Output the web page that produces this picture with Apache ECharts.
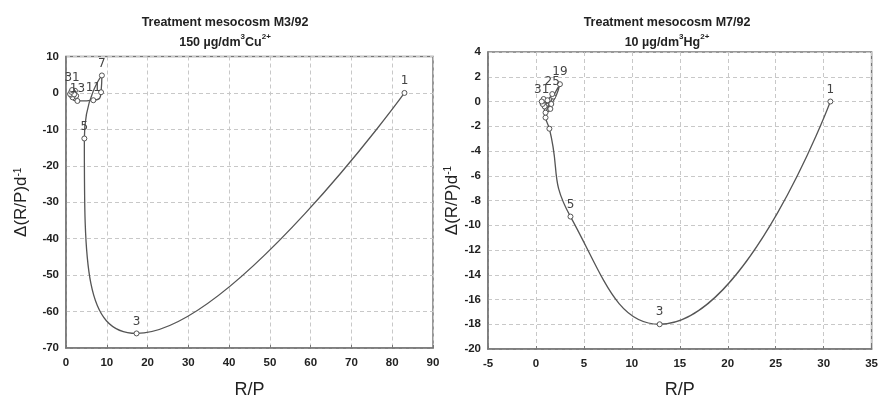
<!DOCTYPE html>
<html>
<head>
<meta charset="utf-8">
<script src="https://cdn.jsdelivr.net/npm/echarts@6/dist/echarts.min.js"></script>
<style>
html,body{margin:0;padding:0;background:#fff;}
#c{width:881px;height:404px;}
</style>
</head>
<body>
<div id="c"></div>
<script>
// Sampling days (point labels)
const days = [1,3,5,7,9,11,13,15,17,19,21,23,25,27,29,31];

// Left panel: M3/92, 150 µg/dm3 Cu2+
const cuRP    = [83, 17.3, 4.5, 8.8, 8.6, 6.7, 2.8, 1.6, 2.2, 1.2, 2.5, 1.8, 1.0, 2.0, 1.3, 1.5];
const cuDelta = [0, -66, -12.5, 4.8, 0.2, -2.0, -2.2, -1.2, 0.6, -0.5, -0.8, 0.2, -0.3, -0.4, 0.3, 0.8];
const cuLabeled = [1, 3, 5, 7, 11, 13, 31];

// Right panel: M7/92, 10 µg/dm3 Hg2+
const hgRP    = [30.7, 12.9, 3.6, 1.4, 1.0, 0.8, 1.5, 1.0, 1.8, 2.5, 1.6, 0.9, 1.7, 1.2, 0.7, 0.6];
const hgDelta = [0, -18, -9.3, -2.2, -1.3, 0.2, -0.6, -0.9, 0.4, 1.4, -0.2, -0.4, 0.6, 0.1, -0.2, 0.0];
const hgLabeled = [1, 3, 5, 19, 25, 31];

// Axis ranges / ticks
const leftX  = {min: 0, max: 90, interval: 10};
const leftY  = {min: -70, max: 10, interval: 10};
const rightX = {min: -5, max: 35, interval: 5};
const rightY = {min: -20, max: 4, interval: 2};

const titles = [
  {line1: 'Treatment mesocosm M3/92', line2: '150 µg/dm{sup|3}Cu{sup|2+}'},
  {line1: 'Treatment mesocosm M7/92', line2: '10 µg/dm{sup|3}Hg{sup|2+}'}
];
const xName = 'R/P';
const yName = 'Δ(R/P)d{sup|-1}';

function pts(xs, ys, labeled){
  return xs.map((x,i)=>({value:[x, ys[i], days[i]], label:{show: labeled.includes(days[i])}}));
}

const FONT = '"Liberation Sans Narrow","Liberation Sans",Arial,sans-serif';
const gridLine = {show:true, lineStyle:{color:'#c8c8c8', type:[4,3], width:1}};
const axisLine = {show:true, onZero:false, lineStyle:{color:'#777', width:1.5}};
const tickLbl = {color:'#222', fontFamily:FONT, fontWeight:'bold', fontSize:11.5};

function xAxis(gi, r, gap){
  return {type:'value', gridIndex:gi, min:r.min, max:r.max, interval:r.interval,
    name:xName, nameLocation:'middle', nameGap:gap,
    nameTextStyle:{fontFamily:FONT, fontSize:18, color:'#222'},
    axisLine, axisTick:{show:true, inside:true, length:3, lineStyle:{color:'#777'}},
    axisLabel:Object.assign({margin:9}, tickLbl), splitLine:gridLine};
}
function yAxis(gi, r, gap){
  return {type:'value', gridIndex:gi, min:r.min, max:r.max, interval:r.interval,
    name:yName, nameLocation:'middle', nameGap:gap, nameRotate:90,
    nameTextStyle:{fontFamily:FONT, fontSize:17, color:'#222',
      rich:{sup:{fontSize:10, verticalAlign:'top', fontFamily:FONT, color:'#222'}}},
    axisLine, axisTick:{show:false},
    axisLabel:Object.assign({margin:7}, tickLbl), splitLine:gridLine};
}
function series(idx, data, smooth){
  return {type:'line', xAxisIndex:idx, yAxisIndex:idx, data, smooth:smooth,
    symbol:'circle', symbolSize:5,
    itemStyle:{color:'#fff', borderColor:'#555', borderWidth:1},
    lineStyle:{color:'#555', width:1.3},
    label:{position:'top', distance:3, formatter:p=>p.value[2],
      color:'#444', fontSize:12, fontFamily:'"DejaVu Sans",sans-serif'},
    labelLayout:{hideOverlap:false},
    emphasis:{disabled:true}, animation:false};
}
function title(t, cx){
  return {text: t.line1 + '\n' + t.line2, left: cx, top: 8, textAlign:'center',
    textStyle:{fontFamily:FONT, fontWeight:'bold', fontSize:12.5, color:'#222', lineHeight:20,
      rich:{sup:{fontFamily:FONT, fontWeight:'bold', fontSize:8, verticalAlign:'top', color:'#222', lineHeight:20}}}};
}

const chart = echarts.init(document.getElementById('c'), null, {renderer:'canvas'});
chart.setOption({
  backgroundColor:'#fff',
  animation:false,
  title:[title(titles[0], 220), title(titles[1], 662)],
  grid:[
    {left:66, right:448, top:56.5, bottom:47.5, show:true, borderColor:'#777', borderWidth:1.5, containLabel:false},
    {left:488, right:6, top:52, bottom:44, show:true, borderColor:'#777', borderWidth:1.5, containLabel:false}
  ],
  xAxis:[xAxis(0, leftX, 33), xAxis(1, rightX, 32)],
  yAxis:[yAxis(0, leftY, 36), yAxis(1, rightY, 22)],
  series:[series(0, pts(cuRP, cuDelta, cuLabeled), 0.65), series(1, pts(hgRP, hgDelta, hgLabeled), 0.5)]
});
</script>
</body>
</html>
